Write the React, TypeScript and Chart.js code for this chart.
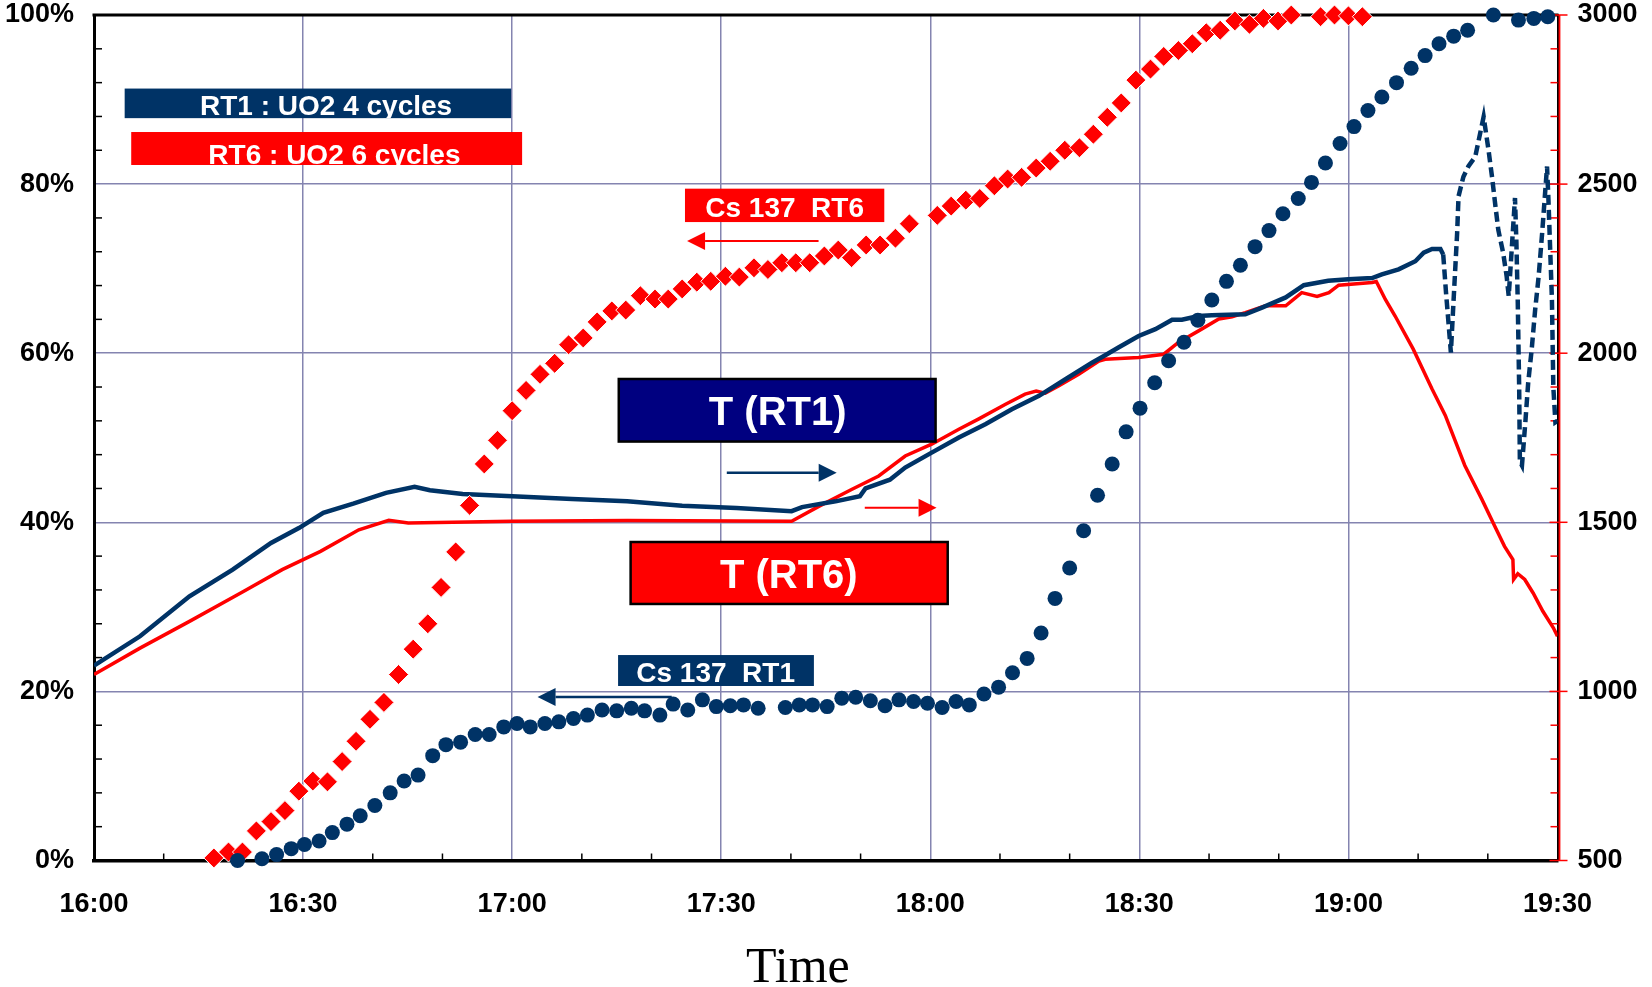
import React, { useEffect, useRef } from 'react';
import { Chart, registerables } from 'chart.js';

Chart.register(...registerables);

// ---- axis tick labels ----
const xTickLabels = ['16:00', '16:30', '17:00', '17:30', '18:00', '18:30', '19:00', '19:30'];
const xAxisTitle = 'Time';

// ---- Cs 137 RT6 (red diamonds), minutes after 16:00 / % released ----
const cs137Rt6Min = [
  17.2, 19.3, 21.3, 23.3, 25.4, 27.4, 29.4, 31.4, 33.5, 35.6, 37.6, 39.6, 41.6, 43.7, 45.8, 47.9,
  49.8, 51.9, 53.9, 56.0, 57.9, 60.0, 62.0, 64.0, 66.1, 68.1, 70.2, 72.2, 74.3, 76.3, 78.4, 80.5,
  82.4, 84.4, 86.5, 88.5, 90.6, 92.6, 94.7, 96.7, 98.7, 100.7, 102.7, 104.8, 106.8, 108.7, 110.8,
  112.8, 115.0, 117.0, 121.0, 123.0, 125.1, 127.1, 129.2, 131.1, 133.1, 135.2, 137.2, 139.3, 141.4,
  143.4, 145.4, 147.4, 149.5, 151.6, 153.5, 155.6, 157.6, 159.6, 161.6, 163.7, 165.8, 167.8, 169.9,
  171.8, 176.0, 178.0, 180.0, 182.0,
];
const cs137Rt6Pct = [
  0.3, 1.0, 1.0, 3.5, 4.6, 5.9, 8.2, 9.4, 9.3, 11.7, 14.1, 16.7, 18.7, 22.0, 25.0, 28.0,
  32.3, 36.5, 42.0, 46.9, 49.7, 53.2, 55.6, 57.5, 58.8, 61.0, 61.8, 63.7, 65.0, 65.1, 66.8, 66.4,
  66.4, 67.6, 68.4, 68.5, 69.1, 69.0, 70.1, 69.9, 70.7, 70.7, 70.7, 71.5, 72.2, 71.3, 72.8,
  72.8, 73.6, 75.3, 76.3, 77.4, 78.1, 78.3, 79.8, 80.6, 80.8, 81.9, 82.7, 84.0, 84.3,
  85.9, 87.9, 89.6, 92.3, 93.6, 95.1, 95.8, 96.6, 97.9, 98.2, 99.3, 98.9, 99.6, 99.3,
  100, 99.8, 100, 99.9, 99.8,
];

// ---- Cs 137 RT1 (navy circles) ----
const cs137Rt1Min = [
  20.6, 24.1, 26.2, 28.3, 30.2, 32.3, 34.2, 36.3, 38.2, 40.3, 42.5, 44.5, 46.5, 48.6, 50.5, 52.6,
  54.7, 56.7, 58.8, 60.7, 62.6, 64.7, 66.7, 68.8, 70.8, 72.9, 75.0, 77.1, 79.0, 81.2, 83.1, 85.2,
  87.3, 89.3, 91.3, 93.2, 95.3, 99.2, 101.2, 103.1, 105.2, 107.3, 109.3, 111.4, 113.5, 115.5,
  117.6, 119.6, 121.7, 123.7, 125.6, 127.7, 129.8, 131.8, 133.9, 135.9, 137.9, 140.0, 142.0,
  144.0, 146.1, 148.1, 150.1, 152.2, 154.2, 156.4, 158.4, 160.4, 162.5, 164.5, 166.6, 168.6,
  170.6, 172.8, 174.7, 176.7, 178.8, 180.8, 182.8, 184.8, 186.9, 189.0, 191.0, 193.0, 195.1,
  197.1, 200.8, 204.4, 206.6, 208.6,
];
const cs137Rt1Pct = [
  0.0, 0.2, 0.7, 1.4, 1.9, 2.3, 3.3, 4.3, 5.3, 6.5, 8.0, 9.4, 10.1, 12.4, 13.7, 14.0,
  14.9, 14.9, 15.8, 16.2, 15.8, 16.2, 16.4, 16.8, 17.2, 17.8, 17.7, 18.0, 17.7, 17.2, 18.5, 17.8,
  19.0, 18.2, 18.3, 18.4, 18.0, 18.1, 18.4, 18.4, 18.2, 19.2, 19.3, 18.9, 18.3, 19.0,
  18.8, 18.6, 18.1, 18.8, 18.4, 19.7, 20.5, 22.2, 23.9, 26.9, 31.0, 34.6, 39.0,
  43.2, 46.9, 50.7, 53.5, 56.5, 59.1, 61.3, 63.9, 66.3, 68.5, 70.4, 72.6, 74.5,
  76.5, 78.3, 80.2, 82.5, 84.8, 86.8, 88.7, 90.3, 92.0, 93.7, 95.2, 96.6, 97.5,
  98.2, 100, 99.4, 99.6, 99.8,
];

// ---- T (RT1), solid part, temperature ----
const tRt1Min = [
  0, 6.6, 13.7, 19.9, 25.4, 29.4, 32.9, 37.2, 41.9, 46.0, 48.2, 52.9, 60.0, 68.6, 76.5, 84.4,
  92.2, 100.1, 101.6, 106.4, 109.9, 110.7, 114.2, 116.4, 120.2, 124.1, 127.9, 131.7, 135.6,
  139.4, 143.2, 145.1, 147.0, 149.9, 152.3, 154.7, 156.1, 158.5, 160.4, 165.2, 167.6, 171.0,
  173.6, 177.1, 180.0, 183.4, 184.8, 187.2, 189.6, 190.8, 192.0, 193.2, 193.6,
];
const tRt1Temp = [
  1076, 1163, 1281, 1360, 1439, 1483, 1528, 1555, 1587, 1605, 1595, 1584, 1577, 1569, 1562, 1549,
  1542, 1533, 1545, 1562, 1577, 1600, 1626, 1662, 1706, 1751, 1790, 1834, 1874,
  1923, 1972, 1994, 2017, 2051, 2071, 2099, 2099, 2110, 2112, 2115, 2135, 2165,
  2201, 2214, 2219, 2222, 2233, 2248, 2272, 2297, 2308, 2308, 2292,
];

// ---- T (RT1), dashed end part ----
const tRt1DashMin = [
  193.6, 194.0, 194.4, 194.7, 195.2, 195.6, 195.8, 196.5, 197.2, 198.2, 198.9, 199.4, 200.1,
  200.6, 201.1, 201.5, 202.2, 202.7, 203.0, 203.9, 204.1, 204.3, 204.5, 204.6, 204.9, 205.4,
  205.8, 206.3, 206.8, 207.3, 207.8, 208.5, 208.7, 209.2, 209.4, 209.7, 210.0,
];
const tRt1DashTemp = [
  2292, 2180, 2080, 2002, 2200, 2356, 2464, 2522, 2552, 2581, 2650, 2699, 2601,
  2522, 2434, 2365, 2297, 2228, 2169, 2459, 2330, 2150, 1900, 1680, 1668, 1800,
  1914, 2012, 2130, 2228, 2356, 2552, 2454, 2159, 1900, 1796, 1800,
];

// ---- T (RT6) ----
const tRt6Min = [
  0, 6.6, 13.7, 21.5, 27.0, 32.5, 38.0, 42.3, 45.1, 60.0, 76.5, 100.1, 104.0, 108.7, 112.6,
  116.4, 120.2, 124.1, 126.9, 130.8, 133.6, 135.2, 136.5, 138.4, 141.3, 144.2, 145.1, 149.9,
  153.5, 155.6, 158.5, 161.4, 163.3, 165.2, 168.1, 171.0, 173.3, 175.5, 177.2, 178.6, 183.4,
  184.0, 185.3, 186.7, 189.3, 192.0, 193.9, 196.7, 199.1, 201.0, 202.4, 203.6, 203.7, 204.3,
  205.3, 206.5, 207.9, 209.4, 210.0,
];
const tRt6Temp = [
  1050, 1128, 1207, 1296, 1360, 1414, 1478, 1506, 1498, 1503, 1505, 1503, 1547, 1597, 1637,
  1696, 1731, 1775, 1805, 1849, 1879, 1888, 1882, 1903, 1938, 1977, 1982, 1987,
  1997, 2032, 2066, 2101, 2108, 2120, 2140, 2140, 2179, 2168, 2179, 2201, 2209,
  2212, 2159, 2110, 2012, 1894, 1816, 1668, 1570, 1488, 1429, 1390, 1331, 1348,
  1331, 1291, 1237, 1188, 1163,
];

const NAVY = '#003366';
const RED = '#ff0000';
const GRID = '#8484b0';
const SANS = '"Liberation Sans", Arial, sans-serif';
const SERIF = '"Liberation Serif", "Times New Roman", serif';

const toXY = (xs: number[], ys: number[]) => xs.map((x, i) => ({ x, y: ys[i] }));

// annotation boxes (data coordinates: minutes / percent)
const boxes = [
  { text: 'RT1 : UO2 4 cycles', x0: 4.4, x1: 59.85, y0: 91.3, y1: 87.8, tx: 33.3, ty: 88.15, fill: NAVY, stroke: '', size: 28 },
  { text: 'RT6 : UO2 6 cycles', x0: 5.34, x1: 61.43, y0: 86.16, y1: 82.26, tx: 34.5, ty: 82.35, fill: RED, stroke: '', size: 28 },
  { text: 'Cs 137  RT6', x0: 84.8, x1: 113.4, y0: 79.46, y1: 75.51, tx: 99.1, ty: 76.1, fill: RED, stroke: '', size: 28 },
  { text: 'T (RT1)', x0: 75.3, x1: 120.76, y0: 56.95, y1: 49.55, tx: 98.1, ty: 51.5, fill: '#000080', stroke: '#000', size: 40 },
  { text: 'T (RT6)', x0: 77.0, x1: 122.5, y0: 37.67, y1: 30.34, tx: 99.7, ty: 32.19, fill: RED, stroke: '#000', size: 40 },
  { text: 'Cs 137  RT1', x0: 75.2, x1: 103.3, y0: 24.3, y1: 20.64, tx: 89.2, ty: 21.15, fill: NAVY, stroke: '', size: 28 },
];
const arrows = [
  { from: 103.97, to: 85.1, y: 73.27, color: RED, width: 2 },
  { from: 90.8, to: 106.57, y: 45.86, color: NAVY, width: 2.5 },
  { from: 110.6, to: 120.9, y: 41.72, color: RED, width: 2 },
  { from: 82.9, to: 63.65, y: 19.34, color: NAVY, width: 2.5 },
];

const decorPlugin = {
  id: 'decor',
  beforeDatasetsDraw(chart: any) {
    const { ctx, chartArea: a, scales } = chart;
    const x = scales.x, y = scales.y, y2 = scales.y2;
    const seg = (x1: number, y1: number, x2: number, y2p: number) => {
      ctx.beginPath(); ctx.moveTo(x1, y1); ctx.lineTo(x2, y2p); ctx.stroke();
    };
    ctx.save();
    ctx.strokeStyle = '#000';
    ctx.lineWidth = 3;
    seg(a.left - 1.5, a.top, a.right + 1, a.top);
    ctx.lineWidth = 1.5;
    for (let m = 10; m < 210; m += 10) {
      if (m % 30 === 0) continue;
      const px = x.getPixelForValue(m);
      seg(px, a.bottom, px, a.bottom - 7);
    }
    for (let p = 4; p < 100; p += 4) {
      if (p % 20 === 0) continue;
      const py = y.getPixelForValue(p);
      seg(a.left, py, a.left + 8, py);
    }
    ctx.strokeStyle = RED;
    ctx.lineWidth = 1.8;
    seg(a.right + 2, a.top, a.right + 2, a.bottom);
    ctx.lineWidth = 1.5;
    for (let t = 500; t <= 3000; t += 100) {
      const py = y2.getPixelForValue(t);
      if (t % 500 === 0) seg(a.right - 8, py, a.right + 10, py);
      else seg(a.right - 7, py, a.right, py);
    }
    ctx.restore();
  },
  afterDraw(chart: any) {
    const { ctx, scales } = chart;
    const x = scales.x, y = scales.y;
    ctx.save();
    for (const b of boxes) {
      const l = x.getPixelForValue(b.x0), r = x.getPixelForValue(b.x1);
      const t = y.getPixelForValue(b.y0), bt = y.getPixelForValue(b.y1);
      ctx.fillStyle = b.fill;
      ctx.fillRect(l, t, r - l, bt - t);
      if (b.stroke) {
        ctx.strokeStyle = b.stroke;
        ctx.lineWidth = 2.5;
        ctx.strokeRect(l, t, r - l, bt - t);
      }
      ctx.save();
      ctx.beginPath();
      ctx.rect(l, t, r - l, bt - t);
      ctx.clip();
      ctx.fillStyle = '#fff';
      ctx.font = `bold ${b.size}px ${SANS}`;
      ctx.textAlign = 'center';
      ctx.textBaseline = 'alphabetic';
      ctx.fillText(b.text, x.getPixelForValue(b.tx), y.getPixelForValue(b.ty));
      ctx.restore();
    }
    for (const ar of arrows) {
      const x1 = x.getPixelForValue(ar.from), x2 = x.getPixelForValue(ar.to);
      const py = y.getPixelForValue(ar.y);
      const dir = x2 > x1 ? 1 : -1;
      const head = 18, half = 9;
      ctx.strokeStyle = ar.color;
      ctx.fillStyle = ar.color;
      ctx.lineWidth = ar.width;
      ctx.beginPath();
      ctx.moveTo(x1, py);
      ctx.lineTo(x2 - dir * head, py);
      ctx.stroke();
      ctx.beginPath();
      ctx.moveTo(x2, py);
      ctx.lineTo(x2 - dir * head, py - half);
      ctx.lineTo(x2 - dir * head, py + half);
      ctx.closePath();
      ctx.fill();
    }
    // axis title, slightly left of centre as in the original
    ctx.fillStyle = '#000';
    ctx.font = `50px ${SERIF}`;
    ctx.textAlign = 'center';
    ctx.textBaseline = 'middle';
    ctx.fillText(xAxisTitle, x.getPixelForValue(101), 969);
    ctx.restore();
  },
};

export default function App() {
  const ref = useRef<HTMLCanvasElement>(null);
  useEffect(() => {
    if (!ref.current) return;
    const tickFont = { family: SANS, size: 27, weight: 'bold' as const, lineHeight: 1 };
    const chart = new Chart(ref.current, {
      type: 'scatter',
      data: {
        datasets: [
          {
            label: 'Cs 137 RT1',
            data: toXY(cs137Rt1Min, cs137Rt1Pct),
            yAxisID: 'y',
            pointStyle: 'circle',
            pointRadius: 7.5,
            backgroundColor: NAVY,
            borderColor: NAVY,
            borderWidth: 0,
            showLine: false,
            clip: false,
            order: 0,
          },
          {
            label: 'Cs 137 RT6',
            data: toXY(cs137Rt6Min, cs137Rt6Pct),
            yAxisID: 'y',
            pointStyle: 'rectRot',
            pointRadius: 10,
            backgroundColor: RED,
            borderColor: '#ffffff',
            borderWidth: 1,
            showLine: false,
            clip: false,
            order: 0,
          },
          {
            label: 'T (RT1)',
            data: toXY(tRt1Min, tRt1Temp),
            yAxisID: 'y2',
            showLine: true,
            borderColor: NAVY,
            borderWidth: 4.5,
            pointRadius: 0,
            tension: 0,
            order: 1,
          },
          {
            label: 'T (RT1) end',
            data: toXY(tRt1DashMin, tRt1DashTemp),
            yAxisID: 'y2',
            showLine: true,
            borderColor: NAVY,
            borderWidth: 4.5,
            borderDash: [10, 5],
            pointRadius: 0,
            tension: 0,
            order: 1,
          },
          {
            label: 'T (RT6)',
            data: toXY(tRt6Min, tRt6Temp),
            yAxisID: 'y2',
            showLine: true,
            borderColor: RED,
            borderWidth: 3.5,
            pointRadius: 0,
            tension: 0,
            order: 1,
          },
        ],
      },
      options: {
        responsive: false,
        animation: false,
        devicePixelRatio: 1,
        layout: { padding: { top: 15, left: 0, right: 0, bottom: 0 } },
        plugins: { legend: { display: false }, tooltip: { enabled: false } },
        scales: {
          x: {
            type: 'linear',
            position: 'bottom',
            min: 0,
            max: 210,
            ticks: {
              stepSize: 30,
              autoSkip: false,
              maxRotation: 0,
              padding: 31,
              color: '#000',
              font: tickFont,
              callback: (v: any) => xTickLabels[Math.round(Number(v) / 30)] ?? '',
            },
            grid: { color: GRID, lineWidth: 1.5, drawTicks: false },
            border: { display: true, color: '#000', width: 3.5 },
            afterFit: (s: any) => { s.height = 126.5; s.paddingLeft = 0; s.paddingRight = 0; },
          },
          y: {
            type: 'linear',
            position: 'left',
            min: 0,
            max: 100,
            ticks: {
              stepSize: 20,
              padding: 20,
              color: '#000',
              font: tickFont,
              callback: (v: any) => `${v}%`,
            },
            grid: { color: GRID, lineWidth: 1.5, drawTicks: false },
            border: { display: true, color: '#000', width: 3 },
            afterFit: (s: any) => { s.width = 94; s.paddingTop = 0; s.paddingBottom = 0; },
          },
          y2: {
            type: 'linear',
            position: 'right',
            min: 500,
            max: 3000,
            ticks: {
              stepSize: 500,
              padding: 20,
              color: '#000',
              font: tickFont,
              callback: (v: any) => String(v),
            },
            grid: { display: false, drawTicks: false },
            border: { display: true, color: '#000', width: 2 },
            afterFit: (s: any) => { s.width = 94.5; s.paddingTop = 0; s.paddingBottom = 0; },
          },
        },
      },
      plugins: [decorPlugin],
    });
    return () => chart.destroy();
  }, []);
  return (
    <div style={{ position: 'absolute', left: 0, top: 0, width: 1652, height: 987, background: '#fff' }}>
      <canvas ref={ref} width={1652} height={987} style={{ display: 'block' }} />
    </div>
  );
}
